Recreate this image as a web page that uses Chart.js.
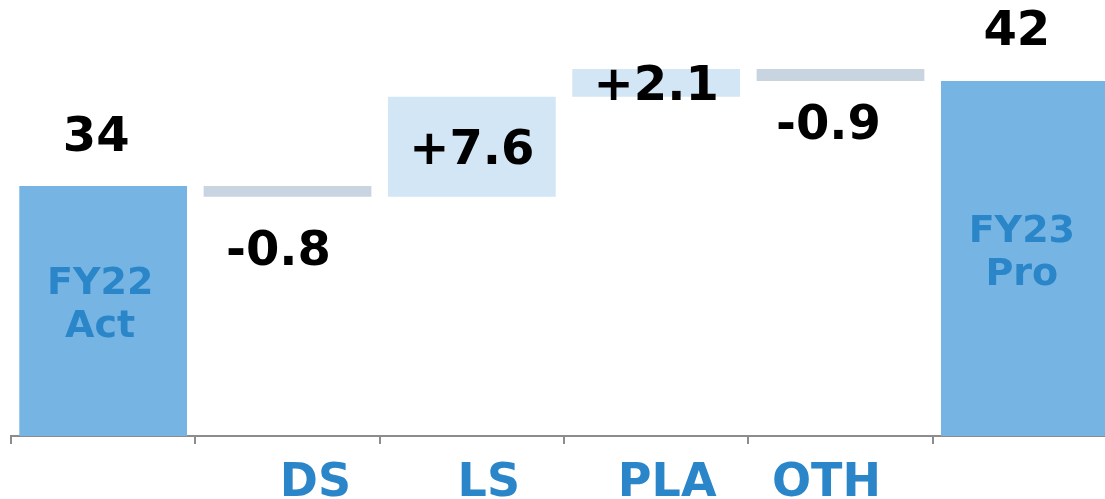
<!DOCTYPE html>
<html>
<head>
<meta charset="utf-8">
<script src="https://cdn.jsdelivr.net/npm/chart.js@4"></script>
<style>
    html, body { margin: 0; padding: 0; background: #fff; overflow: hidden; }
    #wrap { width: 1120px; height: 499px; }
</style>
</head>
<body>
<div id="wrap"><canvas id="bridgeChart"></canvas></div>
<script>
// bridge FY22 Act -> FY23 Pro
const categories = ['FY22 Act', 'DS', 'LS', 'PLA', 'OTH', 'FY23 Pro'];
const startValue = 34;
const deltas = [-0.8, 7.6, 2.1, -0.9];
const endValue = 42;
const totalLabels = [['FY22', 'Act'], ['FY23', 'Pro']];
const axisLabels = ['', 'DS', 'LS', 'PLA', 'OTH', ''];

// text nudges (px) to follow the original slide layout
const axisLabelShift = [0, 28, 17, 11, -14, 0];
const valueShiftX = [-7, -9, 0, 0, -12, -8];
const valueGap = [48, 56, 0, 0, 46, 48];

const TOTAL_COLOR = '#76b5e3';
const UP_COLOR = '#d3e6f5';
const DOWN_COLOR = '#c8d5e0';
const TEXT_BLUE = '#2a86c8';
const FONT = '"DejaVu Sans", Verdana, sans-serif';

// build floating bars
const bars = [[0, startValue]];
const barColors = [TOTAL_COLOR];
let running = startValue;
deltas.forEach(d => {
    bars.push([running, running + d]);
    barColors.push(d >= 0 ? UP_COLOR : DOWN_COLOR);
    running += d;
});
bars.push([0, endValue]);
barColors.push(TOTAL_COLOR);

function fmtDelta(d) {
    return (d > 0 ? '+' : '-') + Math.abs(d).toFixed(1);
}

const labelPlugin = {
    id: 'bridgeLabels',
    afterDraw(chart) {
        const ctx = chart.ctx;
        const meta = chart.getDatasetMeta(0);
        const xScale = chart.scales.x;
        const yScale = chart.scales.y;
        const base = yScale.getPixelForValue(yScale.min);
        ctx.save();
        ctx.textAlign = 'center';
        ctx.textBaseline = 'middle';

        meta.data.forEach((bar, i) => {
            const [a, b] = bars[i];
            const top = yScale.getPixelForValue(Math.max(a, b));
            const bottom = yScale.getPixelForValue(Math.min(a, b));
            const x = bar.x + valueShiftX[i];
            ctx.fillStyle = '#000';
            ctx.font = 'bold 48px ' + FONT;
            if (i === 0 || i === bars.length - 1) {
                const val = i === 0 ? startValue : endValue;
                ctx.fillText(String(val), x, top - valueGap[i]);
                // name inside the total bar
                const names = totalLabels[i === 0 ? 0 : 1];
                ctx.fillStyle = TEXT_BLUE;
                ctx.font = 'bold 38px ' + FONT;
                const mid = (top + base) / 2 - 5.5;
                ctx.fillText(names[0], bar.x - 3, mid - 21);
                ctx.fillText(names[1], bar.x - 3, mid + 22);
            } else {
                const d = deltas[i - 1];
                if (d >= 0) {
                    ctx.fillText(fmtDelta(d), x, (top + bottom) / 2 + 5);
                } else {
                    ctx.fillText(fmtDelta(d), x, bottom + valueGap[i]);
                }
            }
        });

        // category names under the axis
        ctx.fillStyle = TEXT_BLUE;
        ctx.font = 'bold 46px ' + FONT;
        axisLabels.forEach((t, i) => {
            if (!t) return;
            ctx.fillText(t, xScale.getPixelForValue(i) + axisLabelShift[i], 484);
        });
        ctx.restore();
    }
};

new Chart(document.getElementById('bridgeChart').getContext('2d'), {
    type: 'bar',
    data: {
        labels: categories,
        datasets: [{
            data: bars,
            backgroundColor: barColors,
            borderWidth: 0,
            barPercentage: 0.91,
            categoryPercentage: 1.0
        }]
    },
    options: {
        responsive: true,
        maintainAspectRatio: false,
        animation: false,
        layout: {
            padding: { left: 11, right: 3, top: 2, bottom: 55 }
        },
        plugins: {
            legend: { display: false },
            tooltip: { enabled: false }
        },
        scales: {
            x: {
                grid: {
                    offset: true,
                    drawOnChartArea: false,
                    drawTicks: true,
                    tickLength: 8,
                    color: '#8c8c8c',
                    lineWidth: 2
                },
                border: { display: true, color: '#8c8c8c', width: 2 },
                ticks: { display: false }
            },
            y: {
                display: false,
                min: 15,
                max: 48
            }
        }
    },
    plugins: [labelPlugin]
});
</script>
</body>
</html>
